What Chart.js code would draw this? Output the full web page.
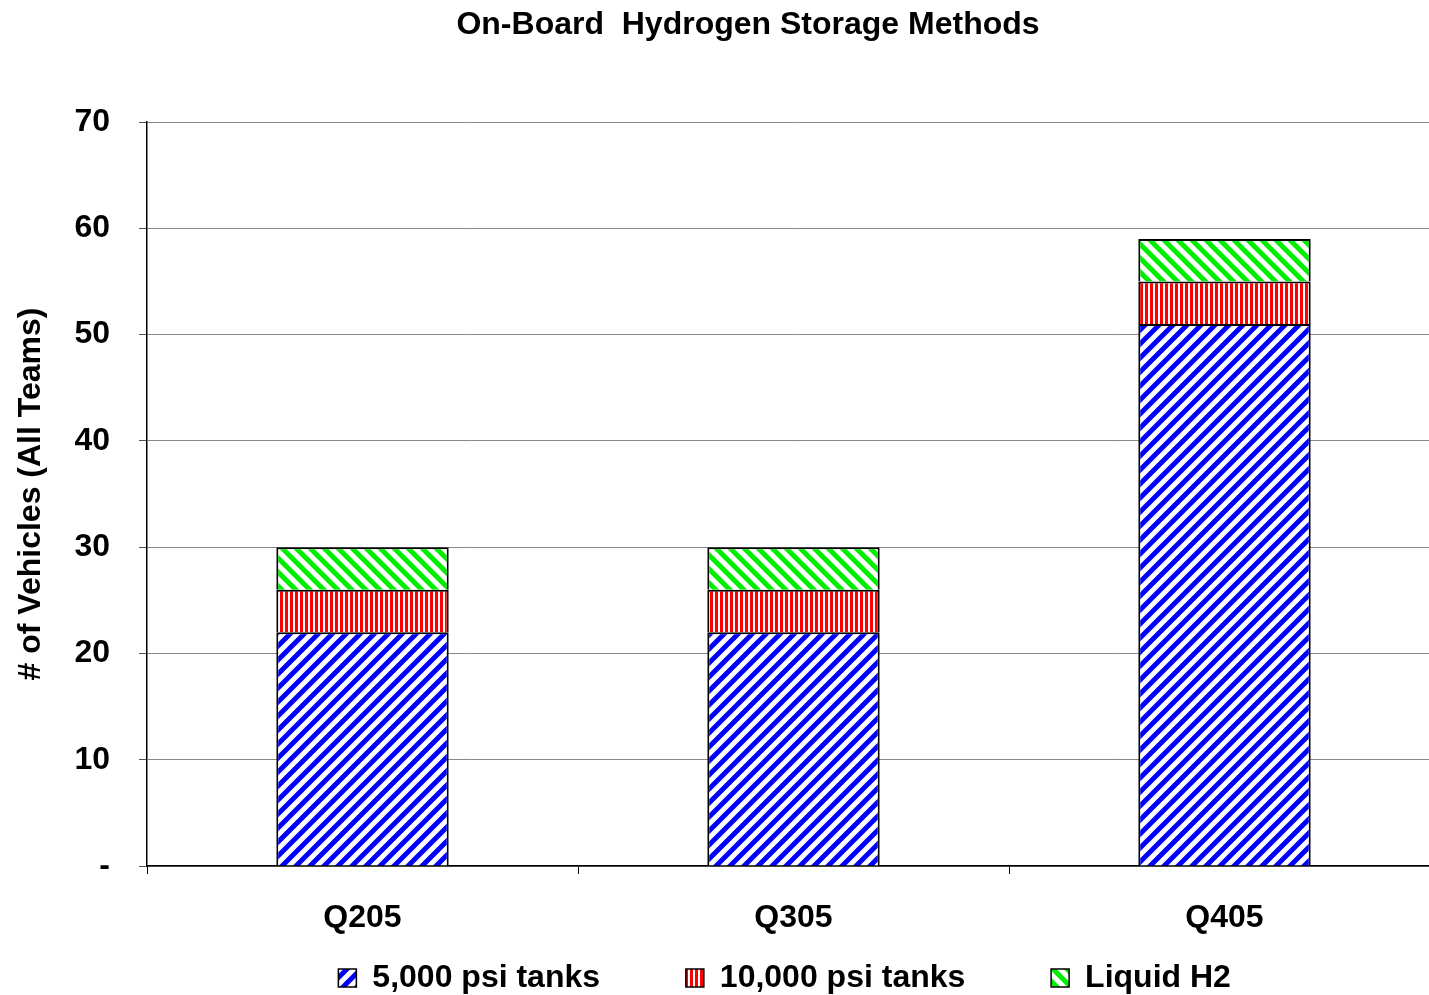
<!DOCTYPE html>
<html>
<head>
<meta charset="utf-8">
<script src="https://cdn.jsdelivr.net/npm/chart.js@4"></script>
<style>
  html, body { margin: 0; padding: 0; background: #fff; overflow: hidden; }
  #wrap { width: 1429px; height: 995px; overflow: hidden; }
</style>
</head>
<body>
<div id="wrap"><canvas id="mycanvas" width="1441" height="995"></canvas></div>
<script>
var quarters = ['Q205', 'Q305', 'Q405'];
var tanks5000 = [22, 22, 51];
var tanks10000 = [4, 4, 4];
var liquidH2 = [4, 4, 4];
var yTicks = [0, 10, 20, 30, 40, 50, 60, 70];

var FONT = '"Liberation Sans", Arial, sans-serif';

/* striped fills like the old office chart */
function makePattern(color, kind) {
	var c = document.createElement('canvas');
	var s = kind == 'vert' ? 5 : 14;
	c.width = s; c.height = s;
	var g = c.getContext('2d');
	g.fillStyle = '#fff';
	g.fillRect(0, 0, s, s);
	g.strokeStyle = color;
	g.fillStyle = color;
	if (kind == 'vert') {
		g.fillRect(0, 0, 3, s);
	} else {
		g.lineWidth = 5;
		g.beginPath();
		if (kind == 'up') {
			g.moveTo(-2, s + 2); g.lineTo(s + 2, -2);
			g.moveTo(-3, 3); g.lineTo(3, -3);
			g.moveTo(s - 3, s + 3); g.lineTo(s + 3, s - 3);
		} else {
			g.moveTo(-2, -2); g.lineTo(s + 2, s + 2);
			g.moveTo(s - 3, -3); g.lineTo(s + 3, 3);
			g.moveTo(-3, s - 3); g.lineTo(3, s + 3);
		}
		g.stroke();
	}
	return g.createPattern(c, 'repeat');
}

var ctx = document.getElementById('mycanvas').getContext('2d');

var titlePlugin = {
	id: 'topTitle',
	afterDraw: function(chart) {
		var g = chart.ctx;
		g.save();
		g.fillStyle = '#000';
		g.font = 'bold 32px ' + FONT;
		g.textAlign = 'center';
		g.textBaseline = 'middle';
		g.fillText('On-Board  Hydrogen Storage Methods', 748, 25);
		g.restore();
	}
};

var chartdata = {
	labels: quarters,
	datasets: [
		{ label: '5,000 psi tanks', data: tanks5000, backgroundColor: makePattern('#0000ff', 'up'), borderColor: '#000', borderWidth: 2 },
		{ label: '10,000 psi tanks', data: tanks10000, backgroundColor: makePattern('#ff0000', 'vert'), borderColor: '#000', borderWidth: 2 },
		{ label: 'Liquid H2', data: liquidH2, backgroundColor: makePattern('#00ee00', 'down'), borderColor: '#000', borderWidth: 2 }
	]
};

var barGraph = new Chart(ctx, {
	type: 'bar',
	data: chartdata,
	plugins: [titlePlugin],
	options: {
		responsive: false,
		animation: false,
		layout: { padding: { top: 122, right: 1, left: 0, bottom: -9 } },
		datasets: { bar: { categoryPercentage: 1, barPercentage: 0.4 } },
		plugins: {
			legend: {
				position: 'bottom',
				fullSize: false,
				labels: {
					color: '#000',
					font: { family: FONT, size: 32, weight: 'bold', lineHeight: 1 },
					boxWidth: 18, boxHeight: 18, padding: 4,
					generateLabels: function(chart) {
						var items = Chart.defaults.plugins.legend.labels.generateLabels(chart);
						items.forEach(function(it, i) {
							it.lineWidth = 1.5;
							it.strokeStyle = '#000';
							if (i < items.length - 1) it.text = it.text + '\u2003\u2003  ';
							else it.text = it.text + '  ';
						});
						return items;
					}
				}
			},
			tooltip: { enabled: false }
		},
		scales: {
			x: {
				stacked: true,
				grid: { offset: true, drawOnChartArea: false, drawTicks: true, tickLength: 8, color: '#000' },
				border: { color: '#000', width: 1.5 },
				ticks: {
					color: '#000', padding: 25,
					font: { family: FONT, size: 32, weight: 'bold' }
				},
				afterFit: function(scale) { scale.height = 92; }
			},
			y: {
				stacked: true,
				min: 0, max: 70,
				afterBuildTicks: function(scale) { scale.ticks = yTicks.map(function(v) { return { value: v }; }); },
				grid: { color: '#888', lineWidth: 1, tickLength: 8, tickColor: '#555' },
				border: { color: '#000', width: 1.5 },
				ticks: {
					color: '#000', padding: 29,
					font: { family: FONT, size: 32, weight: 'bold' },
					callback: function(v) { return v === 0 ? '-' : v; }
				},
				title: {
					display: true, text: '# of Vehicles (All Teams)', color: '#000',
					font: { family: FONT, size: 32, weight: 'bold' },
					padding: { top: 12, bottom: 0 }
				},
				afterFit: function(scale) { scale.width = 147; }
			}
		}
	}
});
</script>
</body>
</html>
